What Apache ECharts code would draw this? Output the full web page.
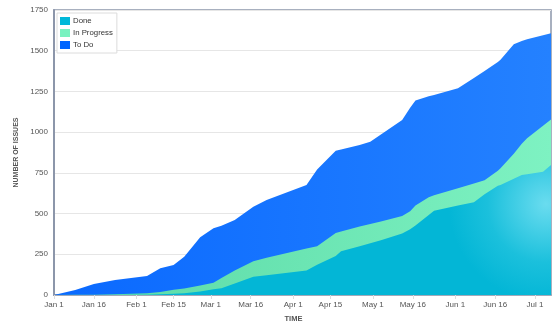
<!DOCTYPE html>
<html>
<head>
<meta charset="utf-8">
<script src="https://cdn.jsdelivr.net/npm/echarts@6/dist/echarts.min.js"></script>
<style>
  html, body { margin: 0; padding: 0; background: #fff; }
  #chart { width: 554px; height: 324px; }
</style>
</head>
<body>
<div id="chart"></div>
<script>
// Cumulative flow of issues by status over time
const dates = [
  '2019-01-01','2019-01-09','2019-01-16','2019-01-24','2019-02-05','2019-02-10',
  '2019-02-15','2019-02-19','2019-02-25','2019-03-02','2019-03-05','2019-03-10',
  '2019-03-17','2019-03-22','2019-04-06','2019-04-10','2019-04-17','2019-04-19',
  '2019-04-26','2019-04-30','2019-05-04','2019-05-12','2019-05-15','2019-05-17',
  '2019-05-22','2019-05-24','2019-06-02','2019-06-08','2019-06-12','2019-06-17',
  '2019-06-18','2019-06-23','2019-06-26','2019-06-28','2019-07-04','2019-07-07'
];
const doneCounts = [
  0, 0, 0, 0, 2, 4,
  7, 10, 22, 36, 42, 70,
  112, 122, 150, 186, 240, 268,
  300, 318, 336, 378, 403, 426,
  491, 518, 549, 569, 619, 671,
  675, 714, 737, 741, 757, 798
];
const inProgressCounts = [
  0, 1, 2, 4, 8, 14,
  25, 30, 36, 39, 63, 80,
  96, 106, 135, 114, 141, 122,
  120, 118, 116, 107, 112, 124,
  109, 94, 106, 116, 86, 92,
  103, 154, 191, 221, 283, 280
];
const toDoCounts = [
  0, 29, 66, 88, 107, 146,
  152, 195, 297, 335, 320, 310,
  334, 355, 390, 470, 504, 503,
  501, 505, 533, 590, 635, 645,
  620, 616, 614, 648, 671, 667,
  667, 671, 632, 608, 555, 529
];
const tickDates = [
  '2019-01-01','2019-01-16','2019-02-01','2019-02-15','2019-03-01','2019-03-16',
  '2019-04-01','2019-04-15','2019-05-01','2019-05-16','2019-06-01','2019-06-16','2019-07-01'
];
const tickLabels = [
  'Jan 1','Jan 16','Feb 1','Feb 15','Mar 1','Mar 16',
  'Apr 1','Apr 15','May 1','May 16','Jun 1','Jun 16','Jul 1'
];
const statusNames = ['Done', 'In Progress', 'To Do'];
const statusColors = ['#00B8D9', '#79F2C0', '#0065FF'];

const startDate = '2019-01-01';
const endDate = '2019-07-07';
const dayOf = s => Math.round((Date.parse(s) - Date.parse(startDate)) / 864e5);
const tickDays = tickDates.map(dayOf);

// Each band is drawn from the axis up to its running total, lowest status on top
const countsByStatus = [doneCounts, inProgressCounts, toDoCounts];
const runningTotals = countsByStatus.map((_, k) =>
  dates.map((d, i) => countsByStatus.slice(0, k + 1).reduce((s, arr) => s + arr[i], 0))
);

const fills = [
  { type: 'radial', x: 0.99, y: 0.3, r: 0.75,
    colorStops: [{ offset: 0, color: '#6adcef' }, { offset: 0.6, color: '#1bc0dc' }, { offset: 1, color: '#03b6d6' }] },
  { type: 'linear', x: 0, y: 0, x2: 1, y2: 0,
    colorStops: [{ offset: 0, color: '#58d8a4' }, { offset: 1, color: '#7ef2c2' }] },
  { type: 'linear', x: 0, y: 0, x2: 1, y2: 0,
    colorStops: [{ offset: 0, color: '#0a69ff' }, { offset: 1, color: '#2481ff' }] }
];

const chart = echarts.init(document.getElementById('chart'), null, { renderer: 'canvas' });
const font = 'Arial, "Liberation Sans", Helvetica, sans-serif';

chart.setOption({
  backgroundColor: '#ffffff',
  animation: false,
  textStyle: { fontFamily: font },
  grid: {
    left: 54, right: 3, top: 10, bottom: 29,
    outerBoundsMode: 'none',
    containLabel: false,
    show: true, borderColor: '#8c96aa', borderWidth: 1.5, backgroundColor: 'transparent'
  },
  legend: {
    orient: 'vertical',
    left: 57, top: 13,
    padding: [4, 4, 4, 3],
    itemWidth: 10, itemHeight: 8, itemGap: 4,
    icon: 'rect',
    backgroundColor: '#ffffff',
    borderColor: '#dcdcdc', borderWidth: 1,
    textStyle: { fontSize: 7.8, color: '#333', fontFamily: font, padding: [0, 0, 0, -2] },
    data: statusNames.map((n, i) => ({ name: n, itemStyle: { color: statusColors[i] } }))
  },
  xAxis: {
    type: 'value',
    min: 0,
    max: dayOf(endDate),
    name: 'TIME',
    nameLocation: 'middle',
    nameGap: 20,
    nameTextStyle: { fontSize: 7.5, fontWeight: 'bold', color: '#555', padding: [0, 18, 0, 0] },
    axisLine: { show: true, lineStyle: { color: '#8c96aa', width: 1.5 } },
    axisTick: { show: true, customValues: tickDays, length: 4, lineStyle: { color: '#dddddd' } },
    axisLabel: {
      customValues: tickDays,
      fontSize: 8, color: '#555', margin: 6,
      formatter: v => tickLabels[tickDays.indexOf(v)] || ''
    },
    splitLine: { show: false }
  },
  yAxis: {
    type: 'value',
    min: 0, max: 1750, interval: 250,
    name: 'NUMBER OF ISSUES',
    nameLocation: 'middle',
    nameRotate: 90,
    nameGap: 33,
    nameTextStyle: { fontSize: 7, fontWeight: 'bold', color: '#555' },
    axisLine: { show: true, lineStyle: { color: '#8c96aa', width: 2 } },
    axisTick: { show: false },
    axisLabel: { fontSize: 8, color: '#555', margin: 6, formatter: v => String(v) },
    splitLine: { show: true, lineStyle: { color: '#e6e6e6', width: 1 } }
  },
  series: statusNames.map((name, i) => ({
    name: name,
    type: 'line',
    data: dates.map((d, j) => [dayOf(d), runningTotals[i][j]]),
    showSymbol: false,
    symbol: 'none',
    lineStyle: { width: 0 },
    itemStyle: { color: statusColors[i] },
    areaStyle: { color: fills[i], opacity: 1, origin: 'start' },
    z: 5 - i
  }))
});
</script>
</body>
</html>
